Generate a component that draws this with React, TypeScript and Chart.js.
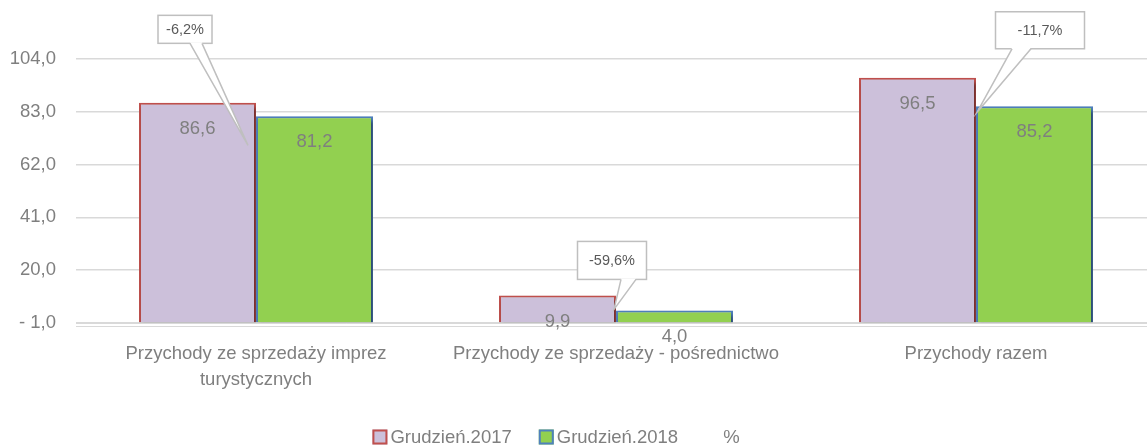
import React, { useEffect, useRef } from "react";
import { Chart, registerables } from "chart.js";

Chart.register(...registerables);

// ---------- data ----------
const categories: (string | string[])[] = [
  ["Przychody ze sprzedaży imprez", "turystycznych"],
  "Przychody ze sprzedaży - pośrednictwo",
  "Przychody razem",
];
const values2017 = [86.6, 9.9, 96.5];
const values2018 = [81.2, 4.0, 85.2];
const pctChangeLabels = ["-6,2%", "-59,6%", "-11,7%"];
const seriesLabels = ["Grudzień.2017", "Grudzień.2018", "%"];
const yMin = -1;
const yMax = 104;
const yStep = 21;

// ---------- styles ----------
const FONT = "'Liberation Sans', Arial, sans-serif";
const FS = 18.5;
const TEXT_GRAY = "#7F7F7F";
const GRID = "#D9D9D9";
const PURPLE = "#CCC0DA";
const RED = "#C0504D";
const GREEN = "#92D050";
const BLUE = "#4F81BD";

// callout layout, relative to the boundary between the two bars (x) and the top of the second bar (y)
const calloutStyle = [
  { ax: -8, ay: 29, bx: -71, by: -87, w: 54, h: 28, t1: 5, t2: 17 },
  { ax: -2, ay: -1, bx: -4, by: -50, w: 69, h: 38, t1: 9, t2: 24 },
  { ax: 1, ay: 6, bx: 64, by: -76, w: 89, h: 37, t1: -28, t2: -9 },
];

const fmt = (v: number) => {
  const s = Math.abs(v).toFixed(1).replace(".", ",");
  return v < 0 ? "- " + s : s;
};

const decorPlugin = {
  id: "decor",
  beforeDatasetsDraw(chart: any) {
    const ctx = chart.ctx;
    ctx.save();
    ctx.shadowColor = "rgba(0,0,0,0.5)";
    ctx.shadowBlur = 4;
    ctx.shadowOffsetX = 2;
    ctx.shadowOffsetY = 3;
  },
  afterDatasetsDraw(chart: any) {
    const ctx = chart.ctx;
    ctx.restore();
    const area = chart.chartArea;
    // second faint baseline under the axis
    ctx.save();
    ctx.strokeStyle = GRID;
    ctx.lineWidth = 1;
    ctx.beginPath();
    ctx.moveTo(area.left, area.bottom + 3.5);
    ctx.lineTo(area.right, area.bottom + 3.5);
    ctx.stroke();
    ctx.restore();

    // value labels
    ctx.save();
    ctx.font = `${FS}px ${FONT}`;
    ctx.fillStyle = TEXT_GRAY;
    ctx.textAlign = "center";
    ctx.textBaseline = "middle";
    [0, 1].forEach((di) => {
      const meta = chart.getDatasetMeta(di);
      const data = chart.data.datasets[di].data as number[];
      meta.data.forEach((bar: any, i: number) => {
        ctx.fillText(fmt(data[i]), bar.x, bar.y + 26);
      });
    });
    ctx.restore();

    // callouts
    const m0 = chart.getDatasetMeta(0);
    const m1 = chart.getDatasetMeta(1);
    ctx.save();
    ctx.font = `14.5px ${FONT}`;
    pctChangeLabels.forEach((label, i) => {
      const s = calloutStyle[i];
      const b0 = m0.data[i];
      const b1 = m1.data[i];
      const bx = (b0.x + b0.width / 2 + b1.x - b1.width / 2) / 2;
      const by = b1.y;
      const ax = bx + s.ax;
      const ay = by + s.ay;
      const cx = bx + s.bx;
      const cy = by + s.by;
      const left = cx - s.w / 2;
      const top = cy - s.h / 2;
      const bottom = top + s.h;
      ctx.fillStyle = "#FFFFFF";
      ctx.strokeStyle = "#BFBFBF";
      ctx.lineWidth = 1.5;
      ctx.fillRect(left, top, s.w, s.h);
      ctx.strokeRect(left, top, s.w, s.h);
      // tail
      ctx.beginPath();
      ctx.moveTo(cx + s.t1, bottom - 1);
      ctx.lineTo(ax, ay);
      ctx.lineTo(cx + s.t2, bottom - 1);
      ctx.closePath();
      ctx.fill();
      ctx.beginPath();
      ctx.moveTo(cx + s.t1, bottom);
      ctx.lineTo(ax, ay);
      ctx.lineTo(cx + s.t2, bottom);
      ctx.stroke();
      ctx.fillStyle = "#595959";
      ctx.textAlign = "center";
      ctx.textBaseline = "middle";
      ctx.fillText(label, cx, cy + 1);
    });
    ctx.restore();
  },
  afterDraw(chart: any) {
    // legend
    const ctx = chart.ctx;
    ctx.save();
    ctx.font = `${FS}px ${FONT}`;
    ctx.textBaseline = "middle";
    ctx.textAlign = "left";
    const box = 15;
    const gap = 3;
    const spacing = 27;
    const widths = seriesLabels.map((l) => box + gap + ctx.measureText(l).width);
    const total = widths.reduce((a, b) => a + b, 0) + spacing * (widths.length - 1);
    let x = 556 - total / 2;
    const y = 437;
    const fills = [PURPLE, GREEN, null];
    const strokes = [RED, BLUE, null];
    seriesLabels.forEach((l, i) => {
      if (fills[i]) {
        ctx.fillStyle = fills[i] as string;
        ctx.fillRect(x, y - box / 2, box, box);
        ctx.strokeStyle = strokes[i] as string;
        ctx.lineWidth = 2;
        ctx.strokeRect(x + 1, y - box / 2 + 1, box - 2, box - 2);
      }
      ctx.fillStyle = TEXT_GRAY;
      ctx.fillText(l, x + box + gap, y + 1);
      x += widths[i] + spacing;
    });
    ctx.restore();
  },
};

export default function App() {
  const ref = useRef<HTMLCanvasElement>(null);
  useEffect(() => {
    if (!ref.current) return;
    const chart = new Chart(ref.current, {
      type: "bar",
      data: {
        labels: categories,
        datasets: [
          {
            label: seriesLabels[0],
            data: values2017,
            backgroundColor: PURPLE,
            borderColor: RED,
            borderWidth: 2,
            borderSkipped: "start",
            base: yMin,
          },
          {
            label: seriesLabels[1],
            data: values2018,
            backgroundColor: GREEN,
            borderColor: BLUE,
            borderWidth: 2,
            borderSkipped: "start",
            base: yMin,
          },
        ],
      },
      options: {
        animation: false,
        responsive: false,
        maintainAspectRatio: false,
        clip: false as any,
        datasets: { bar: { categoryPercentage: 0.65, barPercentage: 1.0 } },
        layout: { padding: { top: 59, right: 4, left: 0, bottom: 0 } },
        plugins: {
          legend: { display: false },
          tooltip: { enabled: false },
        },
        scales: {
          x: {
            grid: { display: false, drawTicks: false },
            border: { display: true, color: GRID, width: 1 },
            ticks: {
              color: TEXT_GRAY,
              font: { family: FONT, size: FS, lineHeight: 1.4 },
              padding: 18,
              autoSkip: false,
              maxRotation: 0,
            },
            afterFit: (scale: any) => {
              scale.height = 123;
            },
          },
          y: {
            min: yMin,
            max: yMax,
            grid: { color: GRID, lineWidth: 1.5, drawTicks: false },
            border: { display: false },
            ticks: {
              stepSize: yStep,
              color: TEXT_GRAY,
              font: { family: FONT, size: FS },
              padding: 20,
              callback: (v: any) => fmt(Number(v)),
            },
            afterFit: (scale: any) => {
              scale.width = 76;
            },
          },
        },
      },
      plugins: [decorPlugin],
    });
    return () => chart.destroy();
  }, []);
  return (
    <div style={{ position: "absolute", left: 0, top: 0, width: 1147, height: 446, overflow: "hidden" }}>
      <canvas ref={ref} width={1160} height={446} style={{ display: "block" }} />
    </div>
  );
}
